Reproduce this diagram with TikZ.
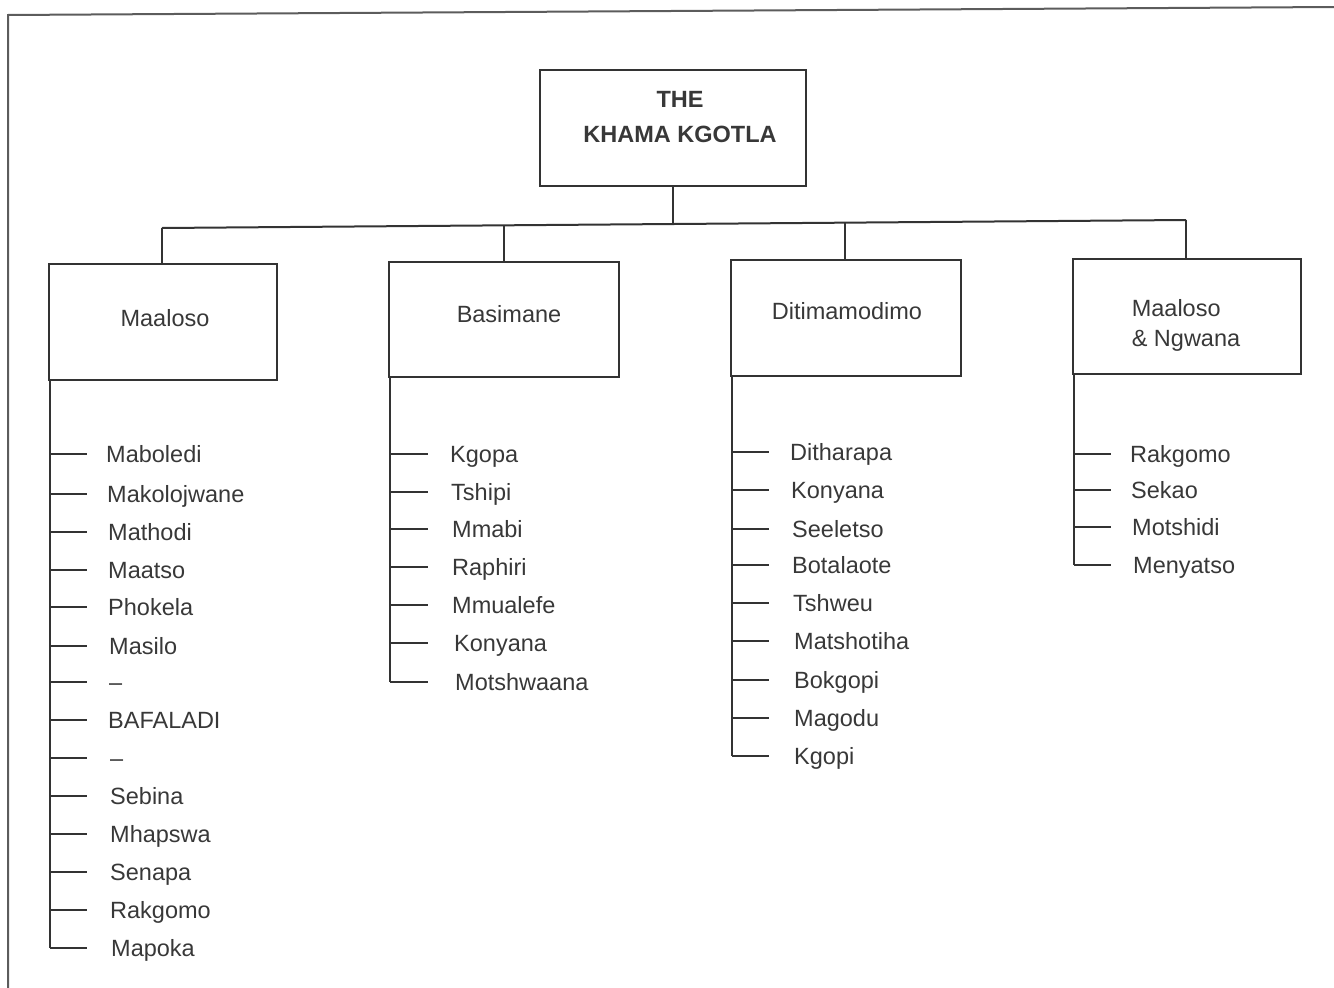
\documentclass[tikz,border=0pt]{standalone}
\usepackage{fontspec}
\setmainfont{Liberation Sans}
\definecolor{ink}{HTML}{333333}
\definecolor{txt}{HTML}{383838}
\begin{document}
\begin{tikzpicture}[x=1pt,y=-1pt,
  line/.style={draw=ink, line width=2pt},
  frame/.style={draw=ink!80, line width=2pt},
  box/.style={draw=ink, line width=2.6pt, inner sep=0pt},
  boxtext/.style={text=txt, inner sep=0pt, font=\fontsize{23.5}{30}\selectfont},
  item/.style={anchor=west, inner sep=0pt, text height=17pt, text depth=0pt, text=txt, font=\fontsize{23.5}{28}\selectfont}]
\useasboundingbox (0,0) rectangle (1334,988);
% outer frame (top and left edges)
\draw[frame] (8,988) -- (8,15) -- (1334,7);
% boxes
\node[box, minimum width=266pt, minimum height=116pt] (top) at (673,128) {};
\node[boxtext, font=\fontsize{23.5}{35}\selectfont\bfseries, align=center] (toptext) at (680,117) {THE\\KHAMA KGOTLA};
\node[box, minimum width=228pt, minimum height=116pt] (b1) at (163,322) {};
\node[boxtext] (b1t) at (165,318) {Maaloso};
\node[box, minimum width=230pt, minimum height=115pt] (b2) at (504,319.5) {};
\node[boxtext] (b2t) at (509,314) {Basimane};
\node[box, minimum width=230pt, minimum height=116pt] (b3) at (846,318) {};
\node[boxtext] (b3t) at (847,311) {Ditimamodimo};
\node[box, minimum width=228pt, minimum height=115pt] (b4) at (1187,316.5) {};
\node[boxtext, align=left] (b4t) at (1186,325) {Maaloso\\\& Ngwana};
% bus
\coordinate (jt) at (673,224);
\coordinate (j1) at (162,228);
\coordinate (j2) at (504,226);
\coordinate (j3) at (845,222);
\coordinate (j4) at (1186,220);
\draw[line] (top.south) -- (jt);
\draw[line] (j1) -- (j4);
\draw[line] (j1) -- (j1 |- b1.north);
\draw[line] (j2) -- (j2 |- b2.north);
\draw[line] (j3) -- (j3 |- b3.north);
\draw[line] (j4) -- (j4 |- b4.north);
% column 1
\coordinate (s1) at ([xshift=2pt]b1.south west);
\foreach \n/\x/\y/\t in {a1/106/454/Maboledi, a2/107/494/Makolojwane, a3/108/532/Mathodi, a4/108/570/Maatso, a5/108/607/Phokela, a6/109/646/Masilo, a7/109/682/--, a8/108/720/BAFALADI, a9/110/758/--, a10/110/796/Sebina, a11/110/834/Mhapswa, a12/110/872/Senapa, a13/110/910/Rakgomo, a14/111/948/Mapoka}{
  \node[item] (\n) at (\x,\y) {\t};
  \draw[line] (\n.west -| s1) -- ++(37,0);
}
\draw[line] (s1) -- (a14.west -| s1);
% column 2
\coordinate (s2) at ([xshift=2pt]b2.south west);
\foreach \n/\x/\y/\t in {c1/450/454/Kgopa, c2/451/492/Tshipi, c3/452/529/Mmabi, c4/452/567/Raphiri, c5/452/605/Mmualefe, c6/454/643/Konyana, c7/455/682/Motshwaana}{
  \node[item] (\n) at (\x,\y) {\t};
  \draw[line] (\n.west -| s2) -- ++(38,0);
}
\draw[line] (s2) -- (c7.west -| s2);
% column 3
\coordinate (s3) at ([xshift=2pt]b3.south west);
\foreach \n/\x/\y/\t in {d1/790/452/Ditharapa, d2/791/490/Konyana, d3/792/529/Seeletso, d4/792/565/Botalaote, d5/793/603/Tshweu, d6/794/641/Matshotiha, d7/794/680/Bokgopi, d8/794/718/Magodu, d9/794/756/Kgopi}{
  \node[item] (\n) at (\x,\y) {\t};
  \draw[line] (\n.west -| s3) -- ++(37,0);
}
\draw[line] (s3) -- (d9.west -| s3);
% column 4
\coordinate (s4) at ([xshift=2pt]b4.south west);
\foreach \n/\x/\y/\t in {e1/1130/454/Rakgomo, e2/1131/490/Sekao, e3/1132/527/Motshidi, e4/1133/565/Menyatso}{
  \node[item] (\n) at (\x,\y) {\t};
  \draw[line] (\n.west -| s4) -- ++(37,0);
}
\draw[line] (s4) -- (e4.west -| s4);
\end{tikzpicture}
\end{document}
